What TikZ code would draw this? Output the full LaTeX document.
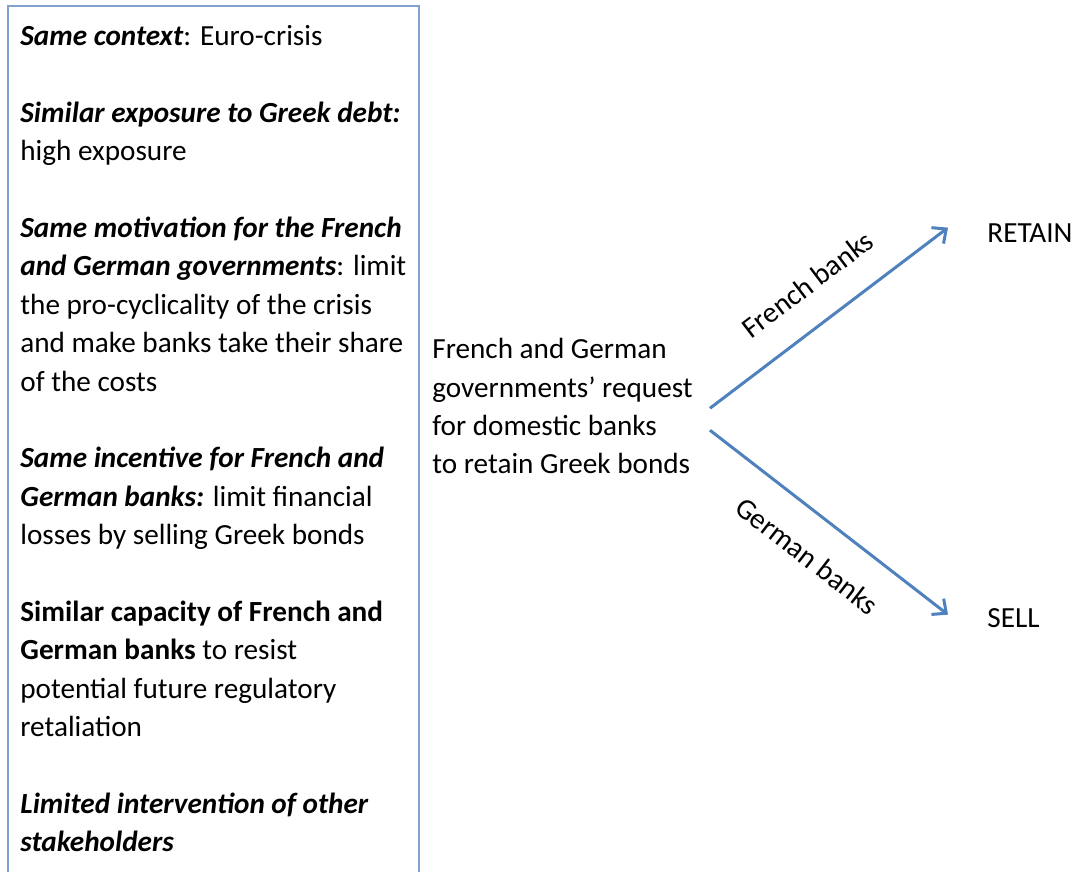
\documentclass[tikz,border=0pt]{standalone}
\usepackage{fontspec}
\setmainfont{Carlito}
\usetikzlibrary{positioning,arrows.meta}
\usepackage{xcolor}
\definecolor{frameblue}{RGB}{128,162,206}
\definecolor{arrowblue}{RGB}{79,129,189}

\begin{document}
\begin{tikzpicture}[
        x=0.5pt, y=-0.5pt,
        every node/.style={font=\fontsize{14.6}{19.2}\selectfont, text=black, inner sep=0pt},
        factors/.style={anchor=north west, align=left},
        request/.style={anchor=north west, align=left},
        outcome/.style={anchor=base west},
        choice_arrow/.style={draw=arrowblue, line width=1.5pt, -{Straight Barb[length=5.5pt,width=10pt]}},
        bank_label/.style={sloped, pos=0.51}
    ]
        % Page size and the cut at the bottom edge
        \useasboundingbox (0,0) rectangle (1074,871);
        \clip (0,0) rectangle (1074,871);
        
        % Frame round the shared conditions (runs off the page)
        \draw[frameblue, line width=1.2pt] (8,6) rectangle (419,920);
        
        % Shared conditions
        \node[factors] (conditions) at (20,25) {%
            \textit{\textbf{Same context}}: Euro-crisis\\[19.2pt]
            \textit{\textbf{Similar exposure to Greek debt:}}\\
            high exposure\\[19.2pt]
            \textit{\textbf{Same motivation for the French}}\\
            \textit{\textbf{and German governments}}: limit\\
            the pro-cyclicality of the crisis\\
            and make banks take their share\\
            of the costs\\[19.2pt]
            \textit{\textbf{Same incentive for French and}}\\
            \textit{\textbf{German banks:}} limit financial\\
            losses by selling Greek bonds\\[19.2pt]
            \textbf{Similar capacity of French and}\\
            \textbf{German banks} to resist\\
            potential future regulatory\\
            retaliation\\[19.2pt]
            \textit{\textbf{Limited intervention of other}}\\
            \textit{\textbf{stakeholders}}};
        
        % Governments' request
        \node[request] (request) at (432,338) {%
            French and German\\
            governments’ request\\
            for domestic banks\\
            to retain Greek bonds};
        
        % Outcomes
        \node[outcome] (retain) at (987,243) {RETAIN};
        \node[outcome] (sell) at (987,627) {SELL};
        
        % Branches
        \draw[choice_arrow] ([shift={(17,2)}]request.east) -- ([shift={(-39,-6)}]retain.west)
            node[bank_label, above=14pt] {French banks};
        \draw[choice_arrow] ([shift={(17,24)}]request.east) -- ([shift={(-39,-3)}]sell.west)
            node[bank_label, below=14pt] {German banks};
        
    \end{tikzpicture}
\end{document}
